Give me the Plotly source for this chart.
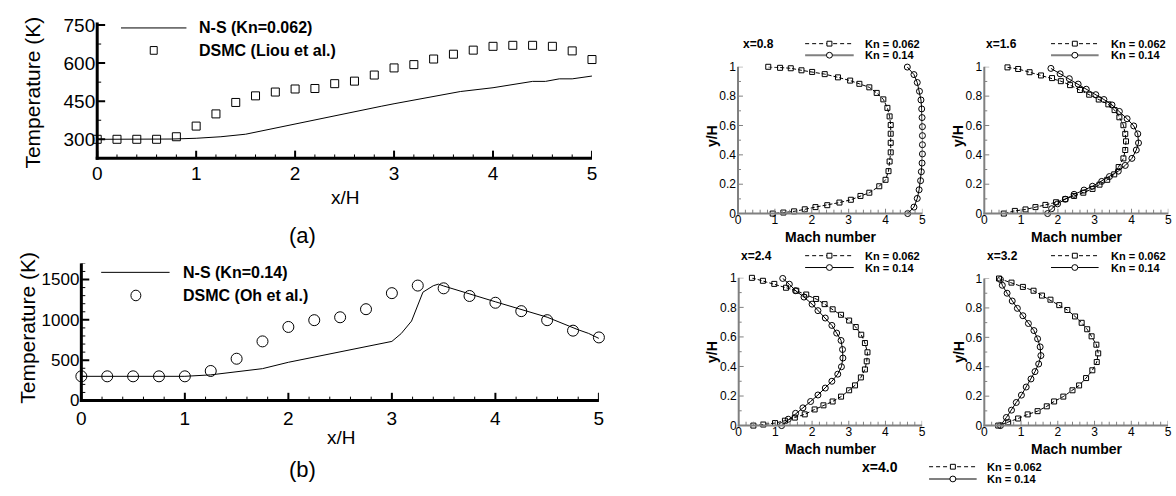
import plotly.graph_objects as go

W, H = 1176, 496
FONT = "Liberation Sans, Arial, sans-serif"


def fx(px):
    return px / W


def fy(py):
    return 1 - py / H


# ---------------- data: panel (a) ----------------
a_dsmc_x = [0, 0.2, 0.4, 0.6, 0.8, 1.0, 1.2, 1.4, 1.6, 1.8, 2.0, 2.2, 2.4, 2.6, 2.8,
            3.0, 3.2, 3.4, 3.6, 3.8, 4.0, 4.2, 4.4, 4.6, 4.8, 5.0]
a_dsmc_T = [300, 300, 300, 300, 310, 352, 400, 445, 471, 486, 498, 500, 519, 529, 553,
            581, 594, 616, 635, 651, 666, 670, 670, 666, 648, 614]
a_ns_x = [0, 0.25, 0.5, 0.75, 1.0, 1.25, 1.5, 1.75, 2.0, 2.25, 2.5, 2.75, 2.87, 3.0,
          3.2, 3.5, 3.67, 4.0, 4.2, 4.4, 4.53, 4.67, 4.8, 5.0]
a_ns_T = [300, 300, 300, 301, 304, 310, 320, 340, 362, 383, 402, 422, 430, 440,
          455, 475, 488, 503, 515, 528, 528, 538, 538, 549]

# ---------------- data: panel (b) ----------------
b_dsmc_x = [0, 0.25, 0.5, 0.75, 1.0, 1.25, 1.5, 1.75, 2.0, 2.25, 2.5, 2.75, 3.0,
            3.25, 3.5, 3.75, 4.0, 4.25, 4.5, 4.75, 5.0]
b_dsmc_T = [300, 300, 300, 300, 300, 366, 518, 733, 912, 996, 1032, 1132, 1331,
            1425, 1391, 1296, 1212, 1108, 996, 866, 782]
b_ns_x = [0, 0.5, 1.0, 1.25, 1.5, 1.75, 2.0, 2.25, 2.5, 2.75, 3.0, 3.09, 3.19,
          3.3, 3.4, 3.45, 3.5, 4.0, 4.5, 4.8, 4.9, 5.0]
b_ns_T = [300, 300, 300, 318, 359, 395, 474, 538, 605, 665, 733, 830, 985,
          1343, 1423, 1443, 1420, 1224, 1033, 877, 832, 770]

# ---------------- data: Mach profiles ----------------
m08_k062_M = [0.82, 1.14, 1.43, 1.72, 2.01, 2.35, 2.71, 3.04, 3.29, 3.56, 3.76, 3.94, 4.05, 4.11,
              4.14, 4.14, 4.14, 4.14, 4.11, 4.08, 4.00, 3.83, 3.56, 3.32, 3.06, 2.75, 2.42, 2.10,
              1.81, 1.52, 1.23, 0.94]
m08_k062_y = [1.0, 0.993, 0.99, 0.976, 0.965, 0.95, 0.928, 0.906, 0.884, 0.86, 0.822, 0.778, 0.72,
              0.662, 0.603, 0.544, 0.482, 0.417, 0.355, 0.289, 0.23, 0.186, 0.142, 0.12, 0.094,
              0.075, 0.057, 0.044, 0.029, 0.015, 0.007, 0.0]
m08_k14_M = [4.59, 4.77, 4.86, 4.92, 4.96, 4.98, 4.99, 5.0, 5.0, 5.0, 5.0, 4.99, 4.97, 4.95,
             4.91, 4.86, 4.77, 4.60]
m08_k14_y = [0.998, 0.947, 0.893, 0.833, 0.774, 0.713, 0.654, 0.592, 0.531, 0.469, 0.406,
             0.344, 0.285, 0.224, 0.162, 0.103, 0.044, 0.0]

m16_k062_M = [0.63, 0.92, 1.23, 1.54, 1.84, 2.08, 2.33, 2.60, 2.85, 3.11, 3.37, 3.54, 3.67, 3.78,
              3.83, 3.85, 3.83, 3.78, 3.65, 3.53, 3.34, 3.13, 2.94, 2.69, 2.44, 2.20, 1.95, 1.66,
              1.39, 1.12, 0.83, 0.53]
m16_k062_y = [0.996, 0.985, 0.963, 0.941, 0.923, 0.902, 0.875, 0.842, 0.810, 0.777, 0.744, 0.705,
              0.656, 0.602, 0.543, 0.492, 0.433, 0.376, 0.317, 0.267, 0.230, 0.197, 0.168, 0.142,
              0.120, 0.098, 0.077, 0.059, 0.044, 0.028, 0.018, 0.0]
m16_k14_M = [1.81, 2.06, 2.31, 2.55, 2.77, 3.03, 3.25, 3.47, 3.67, 3.88, 4.06, 4.17, 4.19, 4.13,
             4.01, 3.83, 3.64, 3.40, 3.19, 2.94, 2.71, 2.44, 2.20, 1.99, 1.83, 1.72]
m16_k14_y = [0.989, 0.952, 0.919, 0.882, 0.847, 0.810, 0.777, 0.740, 0.696, 0.646, 0.597, 0.543,
             0.481, 0.433, 0.376, 0.328, 0.289, 0.252, 0.219, 0.186, 0.160, 0.131, 0.098, 0.066,
             0.033, 0.0]

m24_k062_M = [0.36, 0.66, 0.97, 1.29, 1.57, 1.84, 2.11, 2.34, 2.56, 2.79, 3.01, 3.19, 3.34, 3.44,
              3.51, 3.49, 3.44, 3.33, 3.17, 3.01, 2.79, 2.56, 2.31, 2.07, 1.80, 1.53, 1.26, 0.99,
              0.67, 0.40]
m24_k062_y = [1.0, 0.98, 0.959, 0.933, 0.913, 0.887, 0.857, 0.822, 0.787, 0.75, 0.711, 0.667,
              0.615, 0.559, 0.496, 0.435, 0.380, 0.326, 0.272, 0.239, 0.196, 0.163, 0.137, 0.109,
              0.076, 0.054, 0.033, 0.017, 0.007, 0.0]
m24_k14_M = [1.20, 1.38, 1.55, 1.78, 2.00, 2.16, 2.36, 2.54, 2.67, 2.79, 2.83, 2.84, 2.80, 2.70,
             2.54, 2.36, 2.16, 1.96, 1.75, 1.55, 1.35, 1.17]
m24_k14_y = [0.996, 0.957, 0.913, 0.870, 0.822, 0.778, 0.728, 0.678, 0.626, 0.576, 0.515, 0.457,
             0.398, 0.348, 0.300, 0.254, 0.207, 0.163, 0.120, 0.083, 0.043, 0.0]

m32_k062_M = [0.40, 0.74, 1.05, 1.34, 1.57, 1.80, 2.04, 2.26, 2.47, 2.65, 2.80, 2.92, 3.05, 3.10,
              3.06, 2.94, 2.77, 2.58, 2.40, 2.15, 1.90, 1.70, 1.45, 1.18, 0.92, 0.65, 0.38]
m32_k062_y = [1.0, 0.972, 0.943, 0.917, 0.884, 0.856, 0.819, 0.786, 0.742, 0.699, 0.655, 0.607,
              0.550, 0.491, 0.432, 0.376, 0.323, 0.273, 0.240, 0.197, 0.164, 0.131, 0.098, 0.076,
              0.048, 0.022, 0.0]
m32_k14_M = [0.44, 0.49, 0.62, 0.76, 0.90, 1.05, 1.20, 1.35, 1.45, 1.52, 1.54, 1.48, 1.38, 1.27,
             1.14, 1.01, 0.87, 0.74, 0.60, 0.44]
m32_k14_y = [0.993, 0.954, 0.900, 0.847, 0.797, 0.747, 0.694, 0.646, 0.590, 0.535, 0.476, 0.419,
             0.367, 0.317, 0.262, 0.207, 0.157, 0.105, 0.055, 0.0]

# ---------------- tick values / labels ----------------
xH_ticks = [0, 1, 2, 3, 4, 5]
xH_minor = [0.2, 0.4, 0.6, 0.8, 1.2, 1.4, 1.6, 1.8, 2.2, 2.4, 2.6, 2.8,
            3.2, 3.4, 3.6, 3.8, 4.2, 4.4, 4.6, 4.8]
a_T_ticks = [300, 450, 600, 750]
a_T_minor = [225, 375, 525, 675]
b_T_ticks = [0, 500, 1000, 1500]
b_T_minor = [100, 200, 300, 400, 600, 700, 800, 900, 1100, 1200, 1300, 1400, 1600, 1700]
yH_ticks = [0, 0.2, 0.4, 0.6, 0.8, 1]
yH_minor = [0.1, 0.3, 0.5, 0.7, 0.9]
station_labels = ["x=0.8", "x=1.6", "x=2.4", "x=3.2", "x=4.0"]
kn_labels = ["Kn = 0.062", "Kn = 0.14"]

GRAY = "#808080"

fig = go.Figure()

# ---- left panels ----
fig.add_trace(go.Scatter(x=a_ns_x, y=a_ns_T, mode="lines", line=dict(color="black", width=1),
                         xaxis="x", yaxis="y", showlegend=False, cliponaxis=False))
fig.add_trace(go.Scatter(x=a_dsmc_x, y=a_dsmc_T, mode="markers",
                         marker=dict(symbol="square-open", size=8, color="black", line=dict(width=1)),
                         xaxis="x", yaxis="y", showlegend=False, cliponaxis=False))
fig.add_trace(go.Scatter(x=b_ns_x, y=b_ns_T, mode="lines", line=dict(color="black", width=1),
                         xaxis="x2", yaxis="y2", showlegend=False, cliponaxis=False))
fig.add_trace(go.Scatter(x=b_dsmc_x, y=b_dsmc_T, mode="markers",
                         marker=dict(symbol="circle-open", size=11, color="black", line=dict(width=1)),
                         xaxis="x2", yaxis="y2", showlegend=False, cliponaxis=False))

# ---- right panels ----
profiles = [
    (m08_k062_M, m08_k062_y, m08_k14_M, m08_k14_y, "x3", "y3"),
    (m16_k062_M, m16_k062_y, m16_k14_M, m16_k14_y, "x4", "y4"),
    (m24_k062_M, m24_k062_y, m24_k14_M, m24_k14_y, "x5", "y5"),
    (m32_k062_M, m32_k062_y, m32_k14_M, m32_k14_y, "x6", "y6"),
]
for mA, yA, mB, yB, xa, ya in profiles:
    fig.add_trace(go.Scatter(x=mA, y=yA, mode="lines+markers",
                             line=dict(color="black", width=1, dash="4px,2px"),
                             marker=dict(symbol="square-open", size=5, color="black", line=dict(width=1)),
                             xaxis=xa, yaxis=ya, showlegend=False, cliponaxis=False))
    fig.add_trace(go.Scatter(x=mB, y=yB, mode="lines+markers",
                             line=dict(color="black", width=1),
                             marker=dict(symbol="circle-open", size=6, color="black", line=dict(width=1)),
                             xaxis=xa, yaxis=ya, showlegend=False, cliponaxis=False))

shapes = []
annotations = []


def axis(x_or_y, d0, d1, rng, anchor, tickvals, fsize, standoff=0):
    dom = [fx(d0), fx(d1)] if x_or_y == "x" else [fy(d0), fy(d1)]
    return dict(domain=dom, range=rng, anchor=anchor, showline=False, ticks="",
                tickvals=tickvals, showgrid=False, zeroline=False, ticklabelstandoff=standoff,
                tickfont=dict(size=fsize, color="black", family=FONT))


def frame(xa, ya, pl, pr, pb, pt, xmaj, xmin, ymaj, ymin, color, lw, tlen, tw, mlen, ylen=None, ymlen=None):
    """axis lines and inside ticks, placed through the subplot axes"""
    ylen = tlen if ylen is None else ylen
    ymlen = mlen if ymlen is None else ymlen
    shapes.append(dict(type="line", xref="paper", yref="paper", x0=fx(pl - lw / 2), x1=fx(pr),
                       y0=fy(pb), y1=fy(pb), line=dict(color=color, width=lw)))
    shapes.append(dict(type="line", xref="paper", yref="paper", x0=fx(pl), x1=fx(pl),
                       y0=fy(pb + lw / 2), y1=fy(pt), line=dict(color=color, width=lw)))
    for vals, ln, w in ((xmaj, tlen, tw), (xmin, mlen, 1)):
        for v in vals:
            shapes.append(dict(type="line", xref=xa, yref="paper", x0=v, x1=v,
                               y0=fy(pb), y1=fy(pb - ln), line=dict(color=color, width=w)))
    for vals, ln, w in ((ymaj, ylen, tw), (ymin, ymlen, 1)):
        for v in vals:
            shapes.append(dict(type="line", xref="paper", yref=ya, x0=fx(pl), x1=fx(pl + ln),
                               y0=v, y1=v, line=dict(color=color, width=w)))


def text(px, py, s, size, bold=False, xanchor="center", angle=0, color="black"):
    annotations.append(dict(x=fx(px), y=fy(py), xref="paper", yref="paper",
                            text=("<b>%s</b>" % s) if bold else s, showarrow=False,
                            xanchor=xanchor, yanchor="middle", textangle=angle,
                            font=dict(family=FONT, size=size, color=color)))


def pline(x0, y0, x1, y1, color="black", width=1, dash="solid"):
    shapes.append(dict(type="line", xref="paper", yref="paper", x0=fx(x0), y0=fy(y0),
                       x1=fx(x1), y1=fy(y1), line=dict(color=color, width=width, dash=dash)))


def pmark(kind, cx, cy, w, h, color="black", width=1, fill="white"):
    shapes.append(dict(type=kind, xref="paper", yref="paper", x0=fx(cx - w / 2), x1=fx(cx + w / 2),
                       y0=fy(cy + h / 2), y1=fy(cy - h / 2), fillcolor=fill,
                       line=dict(color=color, width=width)))


# panel geometry (pixels): left, right, bottom, top
PA = (93, 592, 156, 15)
PB = (77, 599, 407.3, 265)
P3 = (739.3, 925.3, 213.3, 61)
P4 = (987.7, 1173.3, 213.3, 61)
P5 = (740, 925, 433.3, 280)
P6 = (987.7, 1173, 433.3, 280.7)

frame("x", "y", *PA, xH_ticks, xH_minor, a_T_ticks, a_T_minor, "black", 3, 8, 2, 4)
frame("x2", "y2", *PB, xH_ticks, xH_minor, b_T_ticks, b_T_minor, "black", 3, 8, 2, 4)
for (xa, ya), P in zip([("x3", "y3"), ("x4", "y4"), ("x5", "y5"), ("x6", "y6")], [P3, P4, P5, P6]):
    frame(xa, ya, *P, xH_ticks, xH_minor, yH_ticks, yH_minor, GRAY, 2, 5, 1, 4, ylen=5, ymlen=3)

# panel (a) legend + labels
pline(117, 20.7, 183, 20.7)
text(194, 20.7, "N-S (Kn=0.062)", 16, bold=True, xanchor="left")
pmark("rect", 150, 44, 7, 8)
text(194, 44.3, "DSMC (Liou et al.)", 16, bold=True, xanchor="left")
text(28, 88, "Temperature (K)", 21, angle=-90)
text(343, 197, "x/H", 19)
text(300, 236, "(a)", 22)

# panel (b) legend + labels
pline(97, 274.3, 166, 274.3)
text(178, 274.3, "N-S (Kn=0.14)", 16, bold=True, xanchor="left")
pmark("circle", 132, 298.3, 10, 11)
text(178, 298.3, "DSMC (Oh et al.)", 16, bold=True, xanchor="left")
text(23, 332, "Temperature (K)", 21, angle=-90)
text(339, 446, "x/H", 19)
text(300, 479, "(b)", 22)


def mach_legend(title, tcx, ty, lx0, lx1, ybot, tx, solid_color, solid_w, tsize=12):
    text(tcx, ty, title, tsize, bold=True)
    mid = (lx0 + lx1) / 2
    pline(lx0, ty, lx1, ty, dash="4px,3px")
    pmark("rect", mid, ty, 5, 5)
    pline(lx0, ybot, lx1, ybot, color=solid_color, width=solid_w)
    pmark("circle", mid, ybot, 6, 6)
    text(tx, ty, kn_labels[0], 11, bold=True, xanchor="left")
    text(tx, ybot, kn_labels[1], 11, bold=True, xanchor="left")


mach_legend(station_labels[0], 760, 37, 807, 856, 49, 865, GRAY, 2)
mach_legend(station_labels[1], 1005, 37, 1055, 1103, 49, 1113, GRAY, 2)
mach_legend(station_labels[2], 758, 257, 807, 856, 269.3, 865, "black", 1)
mach_legend(station_labels[3], 1006, 257, 1055, 1103, 269.3, 1113, "black", 1)
mach_legend(station_labels[4], 882, 476, 932, 980, 488.7, 988, GRAY, 2, tsize=14)

for cx, cy in [(833, 238), (1081, 238), (833, 458), (1081, 458)]:
    text(cx, cy, "Mach number", 14, bold=True)
for cx, cy in [(713, 133), (961, 133), (713, 357), (962, 357)]:
    text(cx, cy, "y/H", 14, bold=True, angle=-90)

fig.update_layout(
    width=W, height=H, margin=dict(l=0, r=0, t=0, b=0),
    paper_bgcolor="white", plot_bgcolor="white", showlegend=False,
    xaxis=axis("x", PA[0], PA[1], [0, 5], "y", xH_ticks, 19, 2),
    yaxis=axis("y", PA[2], PA[3], [225, 760], "x", a_T_ticks, 19, 1),
    xaxis2=axis("x", PB[0], PB[1], [0, 5], "y2", xH_ticks, 19, 4),
    yaxis2=axis("y", PB[2], PB[3], [0, 1700], "x2", b_T_ticks, 17, 1),
    xaxis3=axis("x", P3[0], P3[1], [0, 5], "y3", xH_ticks, 12, -3),
    yaxis3=axis("y", P3[2], P3[3], [0, 1], "x3", yH_ticks, 12, 1),
    xaxis4=axis("x", P4[0], P4[1], [0, 5], "y4", xH_ticks, 12, -3),
    yaxis4=axis("y", P4[2], P4[3], [0, 1], "x4", yH_ticks, 12, 1),
    xaxis5=axis("x", P5[0], P5[1], [0, 5], "y5", xH_ticks, 12, -3),
    yaxis5=axis("y", P5[2], P5[3], [0, 1], "x5", yH_ticks, 12, 1),
    xaxis6=axis("x", P6[0], P6[1], [0, 5], "y6", xH_ticks, 12, -3),
    yaxis6=axis("y", P6[2], P6[3], [0, 1], "x6", yH_ticks, 12, 1),
    shapes=shapes, annotations=annotations,
)

fig.write_html("out.html")
